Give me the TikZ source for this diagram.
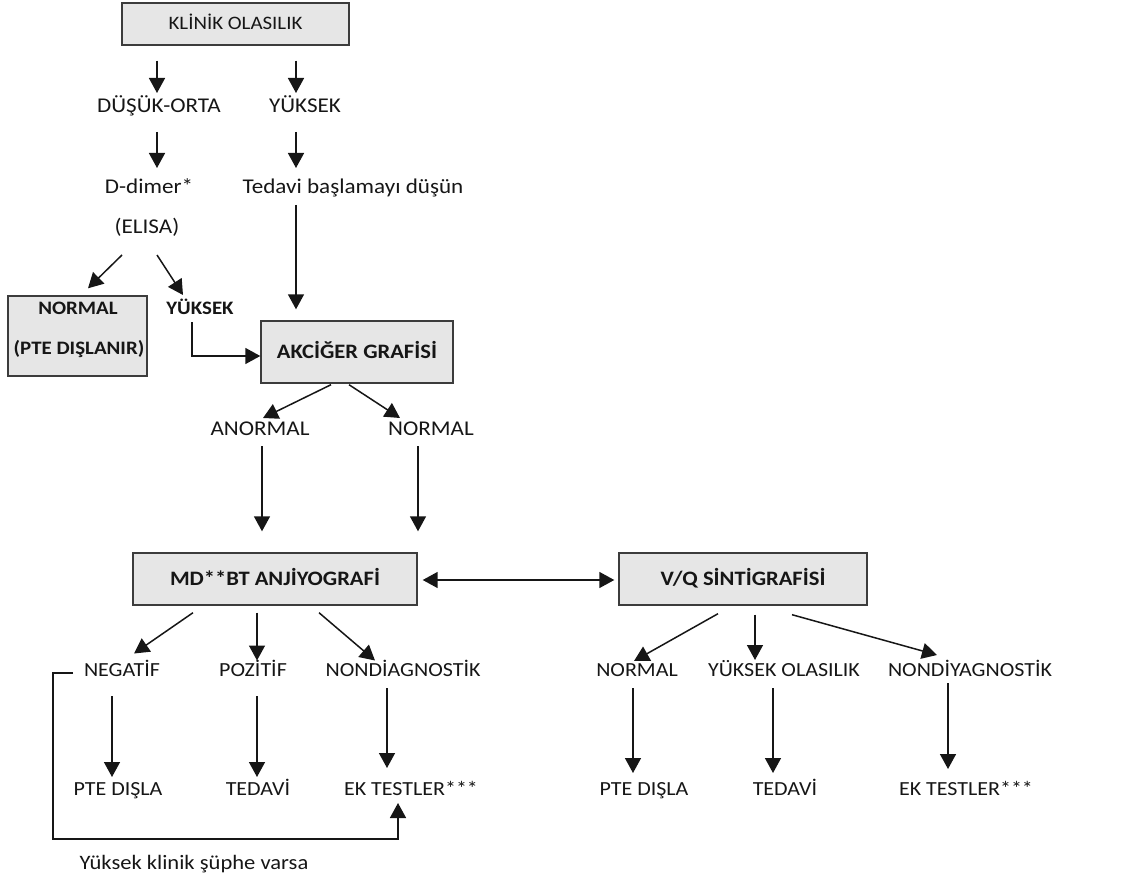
\documentclass[tikz,border=0pt]{standalone}
\usepackage{fontspec}
\setmainfont{Carlito}[FakeStretch=1.1]
\usetikzlibrary{arrows.meta}
\definecolor{boxfill}{HTML}{E6E6E6}
\definecolor{boxline}{HTML}{3C3C3C}
\definecolor{ink}{HTML}{161616}
\tikzset{
  box/.style={draw=boxline, fill=boxfill, line width=1.4pt, inner sep=0pt,
    font=\bfseries\fontsize{20.5}{24}\selectfont, text height=13pt, text depth=0pt},
  toplbl/.style={font=\fontsize{21}{25}\selectfont, inner sep=0pt, text height=13.3pt, text depth=0pt},
  lowlbl/.style={font=\fontsize{20}{24}\selectfont, inner sep=0pt, text height=12.7pt, text depth=0pt},
  boldlbl/.style={font=\bfseries\fontsize{19}{23}\selectfont, inner sep=0pt, text height=12pt, text depth=0pt},
  arr/.style={-{Triangle[length=15pt,width=16pt]}, line width=1.5pt},
  dblarr/.style={{Triangle[length=15pt,width=16pt]}-{Triangle[length=15pt,width=16pt]}, line width=1.5pt}
}
\begin{document}
\begin{tikzpicture}[x=1pt, y=-1pt, color=ink]
\useasboundingbox (0,0) rectangle (1143,877);

% upper part
\node[box, minimum width=227pt, minimum height=42pt, font=\fontsize{19}{23}\selectfont, text height=12pt] (klinik) at (235.5,24) {KLİNİK OLASILIK};
\node[toplbl] (dusuk) at (159,106) {DÜŞÜK-ORTA};
\node[toplbl] (yuksekA) at (305,106) {YÜKSEK};
\node[toplbl] (ddimer) at (149,187) {D-dimer*};
\node[toplbl] (tedavibas) at (353,187) {Tedavi başlamayı düşün};
\node[toplbl] (elisa) at (147,227) {(ELISA)};

\node[box, minimum width=139pt, minimum height=80pt] (normbox) at (77.5,336) {};
\node[boldlbl] (normtxt) at (78,308) {NORMAL};
\node[boldlbl] (dislanir) at (79,348) {(PTE DIŞLANIR)};
\node[boldlbl] (yuksekB) at (200,308) {YÜKSEK};

\node[box, minimum width=192pt, minimum height=62pt] (akciger) at (357,352) {AKCİĞER GRAFİSİ};
\node[toplbl] (anormal) at (260,429) {ANORMAL};
\node[toplbl] (normalA) at (431,429) {NORMAL};

% lower part
\node[box, minimum width=284pt, minimum height=52pt] (mdbt) at (275,579) {MD**BT ANJİYOGRAFİ};
\node[box, minimum width=248pt, minimum height=52pt] (vq) at (743,579) {V/Q SİNTİGRAFİSİ};

\node[lowlbl] (negatif) at (122,670.5) {NEGATİF};
\node[lowlbl] (pozitif) at (253,670.5) {POZİTİF};
\node[lowlbl] (nondiag) at (403,670.5) {NONDİAGNOSTİK};
\node[lowlbl] (ptedislaA) at (118,789) {PTE DIŞLA};
\node[lowlbl] (tedaviA) at (258,789) {TEDAVİ};
\node[lowlbl] (ektestA) at (411,789) {EK TESTLER***};
\node[toplbl, font=\fontsize{20.5}{24}\selectfont] (klinikvar) at (194,863) {Yüksek klinik şüphe varsa};

\node[lowlbl] (normalB) at (637,670.5) {NORMAL};
\node[lowlbl] (yuksekol) at (784,670.5) {YÜKSEK OLASILIK};
\node[lowlbl] (nondiy) at (970,670.5) {NONDİYAGNOSTİK};
\node[lowlbl] (ptedislaB) at (644,789) {PTE DIŞLA};
\node[lowlbl] (tedaviB) at (785,789) {TEDAVİ};
\node[lowlbl] (ektestB) at (966,789) {EK TESTLER***};

% arrows
\draw[arr] ([shift={(-78.5,15)}]klinik.south) -- ([shift={(-2,-13)}]dusuk.center);
\draw[arr] ([shift={(60.5,15)}]klinik.south) -- ([shift={(-9,-13)}]yuksekA.center);
\draw[arr] ([shift={(-2,26)}]dusuk.center) -- ([shift={(8,-19)}]ddimer.center);
\draw[arr] ([shift={(-9,26)}]yuksekA.center) -- ([shift={(-57,-19)}]tedavibas.center);
\draw[arr] ([shift={(-57,18)}]tedavibas.center) -- ([shift={(-61,-11)}]akciger.north);
\draw[arr] ([shift={(-25,28)}]elisa.center) -- ([shift={(10.5,-7)}]normbox.north);
\draw[arr] ([shift={(10,28)}]elisa.center) -- ([shift={(-17,-13)}]yuksekB.center);
\draw[arr] ([shift={(-8,14)}]yuksekB.center) |- ([shift={(0,4)}]akciger.west);
\draw[arr] ([shift={(-26,1)}]akciger.south) -- ([shift={(3,-11)}]anormal.center);
\draw[arr] ([shift={(-8,1)}]akciger.south) -- ([shift={(-31,-11)}]normalA.center);
\draw[arr] ([shift={(2,17)}]anormal.center) -- ([shift={(-13,-21)}]mdbt.north);
\draw[arr] ([shift={(-13,17)}]normalA.center) -- ([shift={(-325,-21)}]vq.north);
\draw[dblarr] ([shift={(5,1)}]mdbt.east) -- ([shift={(-4,1)}]vq.west);

\draw[arr] ([shift={(-82,7)}]mdbt.south) -- ([shift={(12,-17)}]negatif.center);
\draw[arr] ([shift={(-18,7)}]mdbt.south) -- ([shift={(4,-10)}]pozitif.center);
\draw[arr] ([shift={(44,7)}]mdbt.south) -- ([shift={(-28,-10)}]nondiag.center);
\draw[arr] ([shift={(-10,25.5)}]negatif.center) -- ([shift={(-6,-12)}]ptedislaA.center);
\draw[arr] ([shift={(4,25.5)}]pozitif.center) -- ([shift={(-1,-12)}]tedaviA.center);
\draw[arr] ([shift={(-16,17.5)}]nondiag.center) -- ([shift={(-24,-21)}]ektestA.center);
\draw[arr] ([shift={(-49,2.5)}]negatif.center) -- ++(-20,0) |- ([shift={(-13,50)}]ektestA.center) -- ([shift={(-13,14)}]ektestA.center);

\draw[arr] ([shift={(-25,8)}]vq.south) -- ([shift={(-3,-9.5)}]normalB.center);
\draw[arr] ([shift={(12,9)}]vq.south) -- ([shift={(-29,-10.5)}]yuksekol.center);
\draw[arr] ([shift={(49,9)}]vq.south) -- ([shift={(-33,-15.5)}]nondiy.center);
\draw[arr] ([shift={(-4,17.5)}]normalB.center) -- ([shift={(-11,-16)}]ptedislaB.center);
\draw[arr] ([shift={(-11,17.5)}]yuksekol.center) -- ([shift={(-12,-16)}]tedaviB.center);
\draw[arr] ([shift={(-22,12.5)}]nondiy.center) -- ([shift={(-18,-20)}]ektestB.center);
\end{tikzpicture}
\end{document}
